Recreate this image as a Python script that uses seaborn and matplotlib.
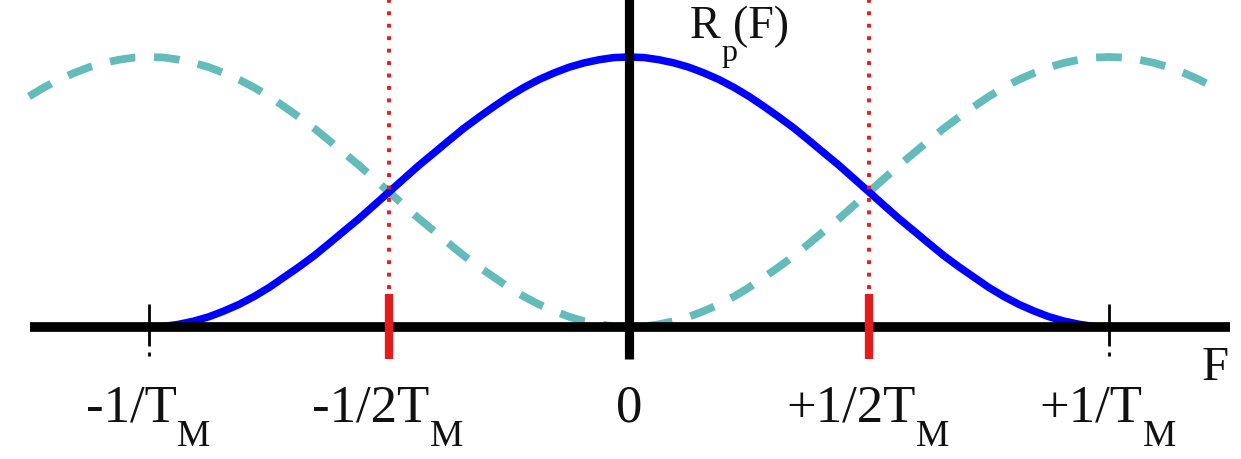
"""Raised-cosine spectrum R_p(F) with its shifted copy, redrawn with seaborn."""
import matplotlib
matplotlib.use("Agg")
import matplotlib.pyplot as plt
import seaborn as sns

# frequency samples (units of 1/T_M) and curve heights
freq_solid = [-1.0, -0.969, -0.938, -0.906, -0.875, -0.844, -0.812, -0.781, -0.75,
              -0.719, -0.688, -0.656, -0.625, -0.594, -0.562, -0.531, -0.5,
              -0.469, -0.438, -0.406, -0.375, -0.344, -0.312, -0.281, -0.25,
              -0.219, -0.188, -0.156, -0.125, -0.094, -0.062, -0.031, 0.0,
              0.031, 0.062, 0.094, 0.125, 0.156, 0.188, 0.219, 0.25,
              0.281, 0.312, 0.344, 0.375, 0.406, 0.438, 0.469, 0.5,
              0.531, 0.562, 0.594, 0.625, 0.656, 0.688, 0.719, 0.75,
              0.781, 0.812, 0.844, 0.875, 0.906, 0.938, 0.969, 1.0]
rp_solid = [0.000, 0.002, 0.010, 0.022, 0.038, 0.059, 0.084, 0.113, 0.146,
            0.184, 0.222, 0.264, 0.309, 0.355, 0.402, 0.451, 0.500,
            0.549, 0.598, 0.645, 0.691, 0.736, 0.778, 0.817, 0.854,
            0.887, 0.916, 0.941, 0.962, 0.978, 0.990, 0.998, 1.000,
            0.998, 0.990, 0.978, 0.962, 0.941, 0.916, 0.887, 0.854,
            0.817, 0.778, 0.736, 0.691, 0.645, 0.598, 0.549, 0.500,
            0.451, 0.402, 0.355, 0.309, 0.264, 0.222, 0.184, 0.146,
            0.113, 0.084, 0.059, 0.038, 0.022, 0.010, 0.002, 0.000]

freq_dashed = [-1.25, -1.219, -1.188, -1.156, -1.125, -1.094, -1.062, -1.031,
               -1.0, -0.969, -0.938, -0.906, -0.875, -0.844, -0.812, -0.781, -0.75,
               -0.719, -0.688, -0.656, -0.625, -0.594, -0.562, -0.531, -0.5,
               -0.469, -0.438, -0.406, -0.375, -0.344, -0.312, -0.281, -0.25,
               -0.219, -0.188, -0.156, -0.125, -0.094, -0.062, -0.031, 0.0,
               0.031, 0.062, 0.094, 0.125, 0.156, 0.188, 0.219, 0.25,
               0.281, 0.312, 0.344, 0.375, 0.406, 0.438, 0.469, 0.5,
               0.531, 0.562, 0.594, 0.625, 0.656, 0.688, 0.719, 0.75,
               0.781, 0.812, 0.844, 0.875, 0.906, 0.938, 0.969, 1.0,
               1.031, 1.062, 1.094, 1.125, 1.156, 1.188, 1.219]
rp_dashed = [0.854, 0.887, 0.916, 0.941, 0.962, 0.978, 0.990, 0.998,
             1.000, 0.998, 0.990, 0.978, 0.962, 0.941, 0.916, 0.887, 0.854,
             0.817, 0.778, 0.736, 0.691, 0.645, 0.598, 0.549, 0.500,
             0.451, 0.402, 0.355, 0.309, 0.264, 0.222, 0.184, 0.146,
             0.113, 0.084, 0.059, 0.038, 0.022, 0.010, 0.002, 0.000,
             0.002, 0.010, 0.022, 0.038, 0.059, 0.084, 0.113, 0.146,
             0.184, 0.222, 0.264, 0.309, 0.355, 0.402, 0.451, 0.500,
             0.549, 0.598, 0.645, 0.691, 0.736, 0.778, 0.817, 0.854,
             0.887, 0.916, 0.941, 0.962, 0.978, 0.990, 0.998, 1.000,
             0.998, 0.990, 0.978, 0.962, 0.941, 0.916, 0.887]

tick_pos = [-1.0, -0.5, 0.0, 0.5, 1.0]
tick_main = ["-1/T", "-1/2T", "0", "+1/2T", "+1/T"]
tick_sub = ["M", "M", "", "M", "M"]
half_ticks = [-0.5, 0.5]
full_ticks = [-1.0, 1.0]
axis_span = [-1.248, 1.252]

BLUE = "#0000ff"
TEAL = "#63bbba"
RED = "#e41c1f"
INK = "#111111"

sns.set_style("white")
plt.rcParams["font.family"] = ["Liberation Serif", "DejaVu Serif"]

fig = plt.figure(figsize=(12.41, 4.6), dpi=100)
ax = fig.add_axes([0, 0, 1, 1])
ax.set_xlim(-629 / 480, 612 / 480)
ax.set_ylim(-132 / 270, 328 / 270)
ax.axis("off")

sns.lineplot(x=freq_dashed, y=rp_dashed, ax=ax, color=TEAL, lw=5.6,
             linestyle=(0, (3.3, 2.4)), zorder=2)
sns.lineplot(x=freq_solid, y=rp_solid, ax=ax, color=BLUE, lw=5.4, zorder=3)

# axes drawn by hand, like the original diagram
ax.plot(axis_span, [0, 0], color="black", lw=7.0, solid_capstyle="butt", zorder=4)
ax.plot([0, 0], [-0.118, 1.3], color="black", lw=6.6, solid_capstyle="butt", zorder=4)

for x in full_ticks:
    ax.plot([x, x], [-0.072, 0.085], color="black", lw=2.0, solid_capstyle="butt", zorder=5)
    ax.plot([x, x], [-0.092, -0.106], color="black", lw=2.0, solid_capstyle="butt", zorder=5)

for x in half_ticks:
    ax.plot([x, x], [-0.119, 0.122], color=RED, lw=6.0, solid_capstyle="butt", zorder=6)
    ax.plot([x, x], [0.142, 1.3], color=RED, lw=2.8, linestyle=(0, (1.0, 2.2)),
            solid_capstyle="butt", zorder=6)

for x, main, sub in zip(tick_pos, tick_main, tick_sub):
    dx = -18 if sub else 0
    t = ax.annotate(main, xy=(x, 0), xytext=(dx, -94), textcoords="offset pixels",
                    ha="center", va="baseline", fontsize=38, color=INK)
    if sub:
        ax.annotate(sub, xy=(1, 0), xycoords=t, xytext=(0, -13.5),
                    textcoords="offset pixels", ha="left", va="baseline",
                    fontsize=27, color=INK)

ax.annotate("F", xy=(axis_span[1], 0), xytext=(-28, -52), textcoords="offset pixels",
            ha="left", va="baseline", fontsize=35, color=INK)
ax.annotate("R", xy=(0, 1), xytext=(61, 20), textcoords="offset pixels",
            ha="left", va="baseline", fontsize=33, color=INK)
ax.annotate("p", xy=(0, 1), xytext=(92, -3), textcoords="offset pixels",
            ha="left", va="baseline", fontsize=23, color=INK)
ax.annotate("(F)", xy=(0, 1), xytext=(104, 20), textcoords="offset pixels",
            ha="left", va="baseline", fontsize=33, color=INK)

fig.savefig("out.png", dpi=100)
